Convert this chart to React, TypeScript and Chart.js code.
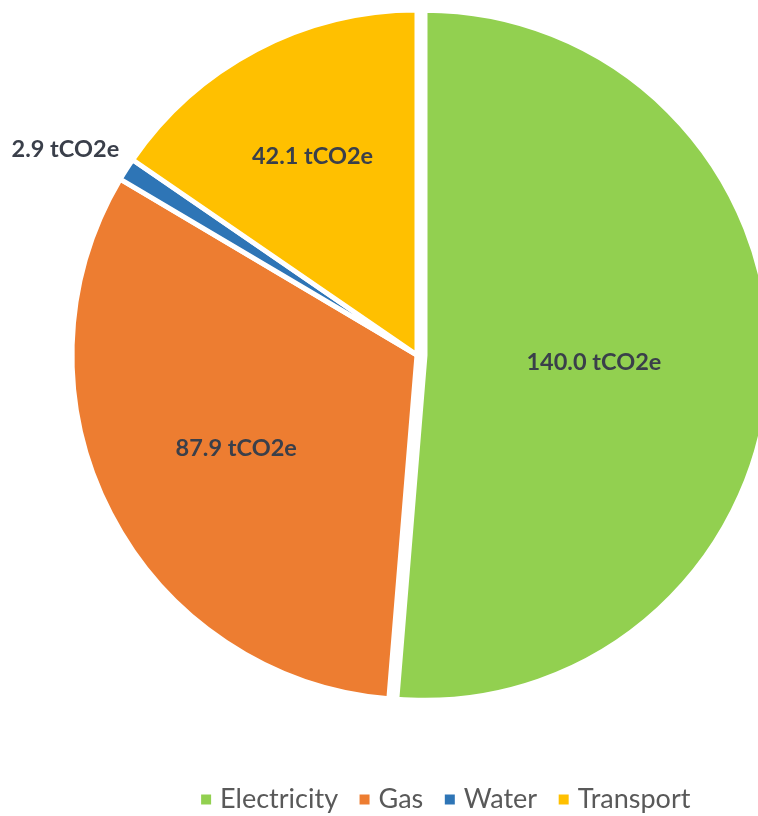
import React, { useEffect, useRef } from "react";
import { Chart, registerables } from "chart.js";

Chart.register(...registerables);

const categories = ["Electricity", "Gas", "Water", "Transport"];
const emissions = [140.0, 87.9, 2.9, 42.1];
const sliceColors = ["#92D050", "#ED7D31", "#2E75B6", "#FFC000"];
const unitLabel = "tCO2e";

const explodePlugin = {
  id: "explodeSlices",
  afterDatasetUpdate(chart: any, args: any, opts: any) {
    const meta = chart.getDatasetMeta(args.index);
    (opts.distances || []).forEach((d: number, i: number) => {
      const arc = meta.data[i];
      if (!arc || !d) return;
      const mid = (arc.startAngle + arc.endAngle) / 2;
      arc.x += Math.cos(mid) * d;
      arc.y += Math.sin(mid) * d;
    });
  },
};

const sliceLabelPlugin = {
  id: "sliceLabels",
  afterDatasetsDraw(chart: any, _args: any, opts: any) {
    const ctx = chart.ctx;
    const meta = chart.getDatasetMeta(0);
    const values = chart.data.datasets[0].data as number[];
    ctx.save();
    ctx.font = opts.font;
    ctx.fillStyle = opts.color;
    ctx.textAlign = "center";
    ctx.textBaseline = "middle";
    meta.data.forEach((arc: any, i: number) => {
      const mid = (arc.startAngle + arc.endAngle) / 2 + (opts.angleShift?.[i] || 0);
      const r = arc.outerRadius * opts.radii[i];
      const x = arc.x + Math.cos(mid) * r;
      const y = arc.y + Math.sin(mid) * r;
      ctx.fillText(`${values[i].toFixed(1)} ${unitLabel}`, x, y);
    });
    ctx.restore();
  },
};

const legendShiftPlugin = {
  id: "legendShift",
  afterLayout(chart: any, _args: any, opts: any) {
    const lg = chart.legend;
    if (!lg) return;
    lg.left += opts.dx;
    lg.right += opts.dx;
    lg.top += opts.dy;
    lg.bottom += opts.dy;
  },
};

export default function App() {
  const canvasRef = useRef<HTMLCanvasElement | null>(null);

  useEffect(() => {
    if (!canvasRef.current) return;
    Chart.defaults.font.family = "Lato, 'Noto Sans', sans-serif";
    const chart = new Chart(canvasRef.current, {
      type: "pie",
      data: {
        labels: categories,
        datasets: [
          {
            data: emissions,
            backgroundColor: sliceColors,
            borderColor: "#ffffff",
            borderWidth: 5,
            radius: 345,
            clip: false,
          } as any,
        ],
      },
      plugins: [explodePlugin, sliceLabelPlugin, legendShiftPlugin],
      options: {
        animation: false,
        responsive: true,
        maintainAspectRatio: false,
        layout: { padding: { left: 76, right: 0, top: 0, bottom: 43 } },
        plugins: {
          tooltip: { enabled: false },
          legend: {
            position: "bottom",
            labels: {
              usePointStyle: true,
              boxWidth: 1,
              boxHeight: 10,
              padding: 26,
              color: "#595959",
              font: { size: 27, family: "Lato" },
              generateLabels: () =>
                categories.map((c, i) => ({
                  text: c,
                  fillStyle: sliceColors[i],
                  strokeStyle: sliceColors[i],
                  lineWidth: 0,
                  pointStyle: "rect",
                  hidden: false,
                  index: i,
                  fontColor: "#595959",
                })),
            },
          },
          explodeSlices: { distances: [8, 0, 0, 0] },
          sliceLabels: {
            font: "bold 23.5px Lato",
            color: "#3a3f4a",
            radii: [0.49, 0.59, 1.18, 0.65],
            angleShift: [0, 0, -0.04, 0],
          },
          legendShift: { dx: 31, dy: 50 },
        } as any,
      },
    });
    return () => chart.destroy();
  }, []);

  return (
    <div style={{ position: "absolute", left: 0, top: 0, width: 758, height: 816, background: "#fff" }}>
      <canvas ref={canvasRef} />
    </div>
  );
}
